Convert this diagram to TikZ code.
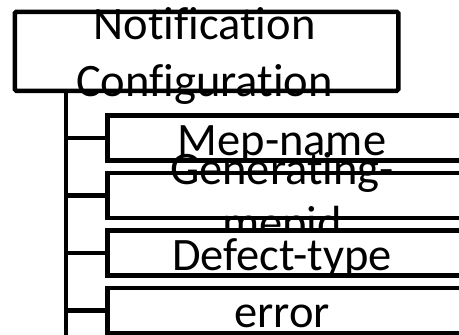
\documentclass[tikz,border=0pt]{standalone}
\usepackage{fontspec}
\setmainfont{Carlito}[Ligatures=NoCommon]
\begin{document}
\begin{tikzpicture}[x=1pt,y=-1pt,
  box/.style={draw=black, fill=white, line width=4.5pt, rectangle, inner sep=0pt, anchor=north west},
  topbox/.style={box, minimum width=383.5pt, minimum height=79pt, rounded corners=1.5pt},
  childbox/.style={box, minimum width=360pt, minimum height=45pt},
  lbl/.style={font=\fontsize{46.5}{53}\selectfont, anchor=base, inner sep=0pt, text=black},
  link/.style={draw=black, line width=4.5pt}]
\useasboundingbox (0,0) rectangle (459,335);
% trunk coordinates
\coordinate (trunkTop) at (66,88.5);
\coordinate (trunkEnd) at (66,345);
\draw[link] (trunkTop) -- (trunkEnd);
% top box
\node[topbox] (top) at (12.5,9.5) {};
\node[lbl] (topA) at (204.5,39) {Notification};
\node[lbl] (topB) at (204.5,96) {Configuration};
% children
\node[childbox] (c1) at (105,113) {};
\draw[link] (c1.west -| trunkTop) -- (c1.west);
\node[lbl] (c1t) at (282,155) {Mep-name};
\node[childbox] (c2) at (105,170.5) {};
\draw[link] (c2.west -| trunkTop) -- (c2.west);
\node[lbl] (c2a) at (282,184) {Generating-};
\node[lbl] (c2b) at (282,238) {mepid};
\node[childbox] (c3) at (105,228) {};
\draw[link] (c3.west -| trunkTop) -- (c3.west);
\node[lbl] (c3t) at (282,270) {Defect-type};
\node[childbox] (c4) at (105,285.5) {};
\draw[link] (c4.west -| trunkTop) -- (c4.west);
\node[lbl] (c4t) at (282,327) {error};
\end{tikzpicture}
\end{document}
